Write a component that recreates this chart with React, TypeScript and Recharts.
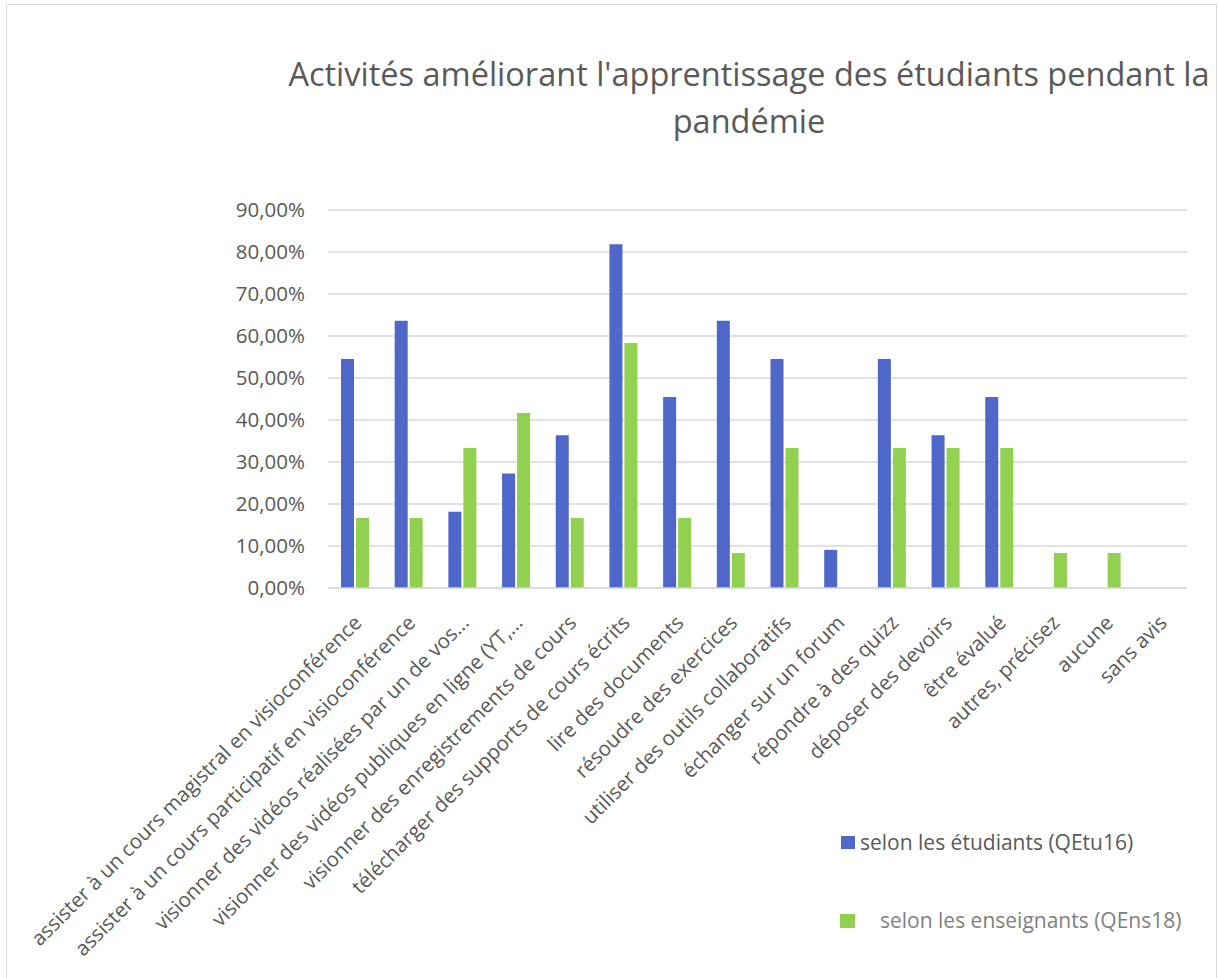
import React from 'react';
import { BarChart, Bar, XAxis, YAxis, CartesianGrid } from 'recharts';

const categories: string[] = [
  'assister à un cours magistral en visioconférence',
  'assister à un cours participatif en visioconférence',
  'visionner des vidéos réalisées par un de vos...',
  'visionner des vidéos publiques en ligne (YT,...',
  'visionner des enregistrements de cours',
  'télécharger des supports de cours écrits',
  'lire des documents',
  'résoudre des exercices',
  'utiliser des outils collaboratifs',
  'échanger sur un forum',
  'répondre à des quizz',
  'déposer des devoirs',
  'être évalué',
  'autres, précisez',
  'aucune',
  'sans avis',
];

const etudiants: number[] = [54.55, 63.64, 18.18, 27.27, 36.36, 81.82, 45.45, 63.64, 54.55, 9.09, 54.55, 36.36, 45.45, 0, 0, 0];
const enseignants: number[] = [16.67, 16.67, 33.33, 41.67, 16.67, 58.33, 16.67, 8.33, 33.33, 0, 33.33, 33.33, 33.33, 8.33, 8.33, 0];

const yTicks: number[] = [0, 10, 20, 30, 40, 50, 60, 70, 80, 90];

const seriesNames = ['selon les étudiants (QEtu16)', 'selon les enseignants (QEns18)'];
const titleLines = ["Activités améliorant l'apprentissage des étudiants pendant la", 'pandémie'];

const data = categories.map((c, i) => ({ cat: c, etu: etudiants[i], ens: enseignants[i] }));

const FONT = '"Open Sans", sans-serif';
const TXT = '#595959';
const BLUE = '#4E67C8';
const GREEN = '#92D050';

const fmt = (v: number) => `${v.toFixed(2).replace('.', ',')}%`;

const XTick = (props: any) => {
  const { x, y, payload } = props;
  return (
    <g transform={`translate(${x + 8},${y + 36})`}>
      <text transform="rotate(-45)" textAnchor="end" x={0} y={0} fill={TXT} fontSize={20.5} fontFamily={FONT}>
        {payload.value}
      </text>
    </g>
  );
};

const YTick = (props: any) => {
  const { x, y, payload } = props;
  return (
    <text x={x} y={y} dy={7} textAnchor="end" fill={TXT} fontSize={20.5} fontFamily={FONT}>
      {fmt(payload.value)}
    </text>
  );
};

export default function App() {
  return (
    <div style={{ position: 'absolute', left: 0, top: 0, width: 1219, height: 978, background: '#fff', overflow: 'hidden' }}>
      <div style={{ position: 'absolute', left: 6, top: 4, width: 1209, height: 1000, border: '1.5px solid #d9d9d9' }} />
      <div style={{ position: 'absolute', left: 0, top: 0 }}>
        <BarChart
          width={1219}
          height={978}
          data={data}
          margin={{ top: 210, right: 32, bottom: 10, left: 228 }}
          barSize={13}
          barGap={2}
        >
          <CartesianGrid vertical={false} stroke="#d9d9d9" strokeWidth={1.3} />
          <XAxis
            dataKey="cat"
            interval={0}
            height={380}
            tickLine={false}
            tickSize={0}
            tickMargin={0}
            axisLine={{ stroke: '#d9d9d9', strokeWidth: 1.3 }}
            tick={<XTick />}
          />
          <YAxis
            width={100}
            domain={[0, 90]}
            ticks={yTicks}
            axisLine={false}
            tickLine={false}
            tickSize={0}
            tickMargin={23}
            tick={<YTick />}
          />
          <Bar dataKey="etu" name={seriesNames[0]} fill={BLUE} isAnimationActive={false} />
          <Bar dataKey="ens" name={seriesNames[1]} fill={GREEN} isAnimationActive={false} />
        </BarChart>
      </div>
      <svg width={1219} height={978} style={{ position: 'absolute', left: 0, top: 0, pointerEvents: 'none' }}>
        <text x={749} y={86} textAnchor="middle" fill={TXT} fontSize={32.5} fontFamily={FONT}>{titleLines[0]}</text>
        <text x={749} y={133} textAnchor="middle" fill={TXT} fontSize={32.5} fontFamily={FONT}>{titleLines[1]}</text>
        <rect x={841} y={836} width={14} height={13} fill={BLUE} />
        <text x={860} y={850} fill={TXT} fontSize={21} fontFamily={FONT}>{seriesNames[0]}</text>
        <rect x={840} y={914} width={15} height={14} fill={GREEN} />
        <text x={880} y={928} fill="#7f7f7f" fontSize={21} fontFamily={FONT}>{seriesNames[1]}</text>
      </svg>
    </div>
  );
}
